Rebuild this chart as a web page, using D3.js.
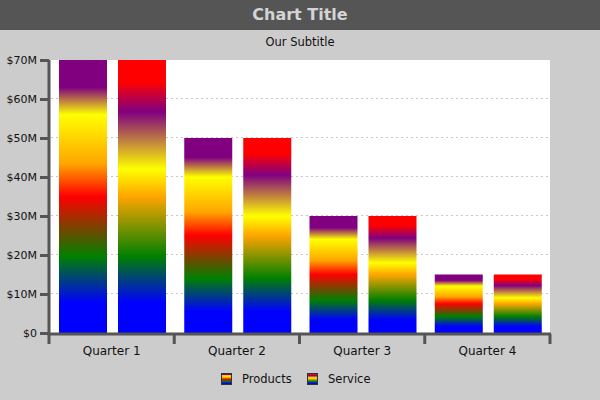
<!DOCTYPE html>
<html><head><meta charset="utf-8">
<script src="https://cdn.jsdelivr.net/npm/d3@7"></script>
<style>
body{margin:0;background:#ccc;}
svg{display:block;font-family:"DejaVu Sans",sans-serif;}
</style></head><body>
<svg id="c" width="600" height="400"></svg>
<script>
const categories = ["Quarter 1","Quarter 2","Quarter 3","Quarter 4"];
const seriesNames = ["Products","Service"];
const products = [70e6, 50e6, 30e6, 15e6];
const service = [70e6, 50e6, 30e6, 15e6];
const yTicks = [0,10e6,20e6,30e6,40e6,50e6,60e6,70e6];
const productStops = [[0,"#800080"],[0.1,"#800080"],[0.2,"#ffff00"],[0.38,"#ffa500"],[0.5,"#ff0000"],[0.72,"#008000"],[0.89,"#0000ff"],[1,"#0000ff"]];
const serviceStops = [[0,"#ff0000"],[0.08,"#ff0000"],[0.19,"#800080"],[0.4,"#ffff00"],[0.5,"#ffa500"],[0.72,"#008000"],[0.89,"#0000ff"],[1,"#0000ff"]];

const svg = d3.select("#c");
svg.append("rect").attr("width",600).attr("height",400).attr("fill","#cccccc");
svg.append("rect").attr("width",600).attr("height",30).attr("fill","#555555");
svg.append("text").attr("x",300).attr("y",20).attr("text-anchor","middle")
  .attr("font-size",16).attr("font-weight","bold").attr("fill","#d4d4d4").text("Chart Title");
svg.append("text").attr("x",300).attr("y",46).attr("text-anchor","middle")
  .attr("font-size",11.5).attr("fill","#111").text("Our Subtitle");

const defs = svg.append("defs");
function grad(id, stops){
  const g = defs.append("linearGradient").attr("id",id).attr("x1",0).attr("y1",0).attr("x2",0).attr("y2",1);
  stops.forEach(s=>g.append("stop").attr("offset",s[0]).attr("stop-color",s[1]));
}
grad("gP", productStops); grad("gS", serviceStops);

const pLeft=49, pRight=550, pTop=60, pBottom=333;
const x = d3.scaleBand().domain(categories).range([pLeft,pRight]);
const y = d3.scaleLinear().domain([0,70e6]).range([pBottom,pTop]);

svg.append("rect").attr("x",pLeft).attr("y",pTop).attr("width",pRight-pLeft).attr("height",pBottom-pTop).attr("fill","#fff");

// gridlines
svg.append("g").selectAll("line").data(yTicks.filter(d=>d>0)).join("line")
  .attr("x1",pLeft+2).attr("x2",pRight).attr("y1",d=>y(d)-0.5).attr("y2",d=>y(d)-0.5)
  .attr("stroke","#c8c8c8").attr("stroke-width",1).attr("stroke-dasharray","2,3");

// bars
const bw = 48;
const data = categories.map((c,i)=>({c, p:products[i], s:service[i]}));
const g = svg.append("g");
g.selectAll(".bp").data(data).join("rect").attr("class","bp")
  .attr("x",d=>x(d.c)+10).attr("width",bw).attr("y",d=>y(d.p)).attr("height",d=>y(0)-y(d.p)).attr("fill","url(#gP)");
g.selectAll(".bs").data(data).join("rect").attr("class","bs")
  .attr("x",d=>x(d.c)+69).attr("width",bw).attr("y",d=>y(d.s)).attr("height",d=>y(0)-y(d.s)).attr("fill","url(#gS)");

// y axis
const fmt = d=> d===0 ? "$0" : "$"+(d/1e6)+"M";
const ya = svg.append("g").attr("transform",`translate(${pLeft},0)`)
  .call(d3.axisLeft(y).tickValues(yTicks).tickFormat(fmt).tickSize(9).tickPadding(3));
ya.select(".domain").attr("stroke","#555").attr("stroke-width",3).attr("d",`M0,${pTop}V${pBottom+2}`);
ya.selectAll(".tick line").attr("stroke","#555").attr("stroke-width",3);
ya.selectAll(".tick text").attr("font-size",11).attr("fill","#111").attr("font-family","DejaVu Sans, sans-serif").attr("dy","0.3em");

// x axis
const xa = svg.append("g").attr("transform",`translate(0,${pBottom+1})`)
  .call(d3.axisBottom(x).tickSize(0).tickPadding(12));
xa.select(".domain").attr("stroke","#555").attr("stroke-width",3).attr("d",`M${pLeft-1.5},0H${pRight+1}`);
xa.selectAll(".tick text").attr("font-size",12).attr("fill","#111").attr("font-family","DejaVu Sans, sans-serif");
const bounds = categories.map(c=>x(c)).concat([x(categories[categories.length-1])+x.bandwidth()]);
xa.selectAll(".bnd").data(bounds).join("line").attr("class","bnd")
  .attr("x1",d=>d).attr("x2",d=>d).attr("y1",0).attr("y2",10).attr("stroke","#555").attr("stroke-width",3);

// legend
const lg = svg.append("g");
const legendItems = [{n:seriesNames[0],g:"gP",x:221},{n:seriesNames[1],g:"gS",x:307}];
lg.selectAll("rect").data(legendItems).join("rect")
  .attr("x",d=>d.x+0.5).attr("y",373.5).attr("width",10).attr("height",11)
  .attr("fill",d=>`url(#${d.g})`).attr("stroke","#333").attr("stroke-width",1);
lg.selectAll("text").data(legendItems).join("text")
  .attr("x",d=>d.x+21).attr("y",383).attr("font-size",11.5).attr("fill","#111").text(d=>d.n);
</script>
</body></html>
